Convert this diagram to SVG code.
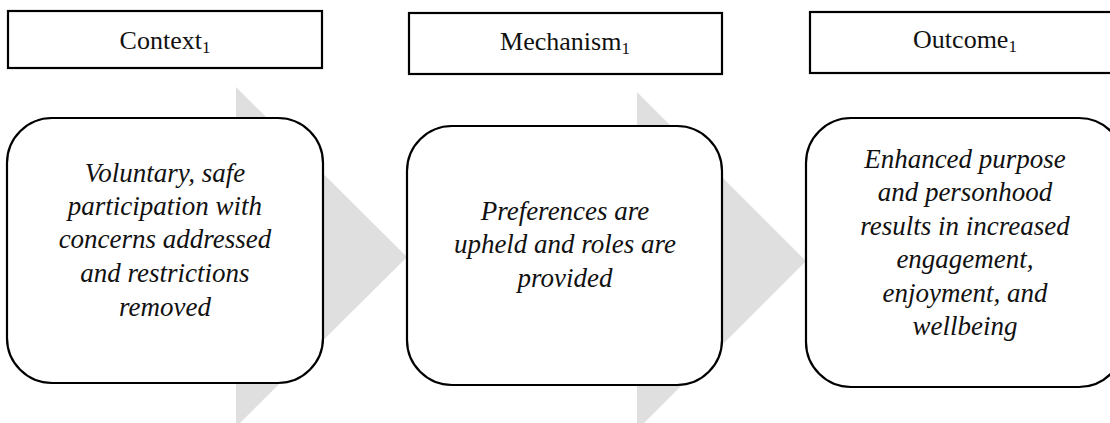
<svg xmlns="http://www.w3.org/2000/svg" width="1110" height="423" viewBox="0 0 1110 423">
<style>
.hdr{fill:#fff;stroke:#000;stroke-width:2.2}
.box{fill:#fff;stroke:#000;stroke-width:2.2}
.chev{fill:#dfdfdf;stroke:none}
.ht{font-family:"Liberation Serif","Times New Roman",serif;font-size:26px;fill:#111;text-anchor:middle}
.sub{font-size:17px}
.bt{font-family:"Liberation Serif","Times New Roman",serif;font-style:italic;font-size:27px;fill:#111;text-anchor:middle}
</style>
<rect width="1110" height="423" fill="#fff"/>
<g id="connectors">
<polygon class="chev" points="236,87 407,257 236,427"/>
<polygon class="chev" points="637,92 806,261 637,430"/>
</g>
<g id="context-header">
<rect class="hdr" x="8" y="11" width="314" height="57"/>
<text class="ht" x="165" y="49">Context<tspan class="sub" dy="4">1</tspan></text>
</g>
<g id="mechanism-header">
<rect class="hdr" x="409" y="13" width="313" height="61"/>
<text class="ht" x="565" y="50">Mechanism<tspan class="sub" dy="4">1</tspan></text>
</g>
<g id="outcome-header">
<rect class="hdr" x="810" y="12" width="314" height="61"/>
<text class="ht" x="965" y="48">Outcome<tspan class="sub" dy="4">1</tspan></text>
</g>
<g id="context-box">
<rect class="box" x="7" y="118" width="316" height="265" rx="45" ry="45"/>
<text class="bt" x="165" y="182">Voluntary, safe</text>
<text class="bt" x="165" y="215">participation with</text>
<text class="bt" x="165" y="248">concerns addressed</text>
<text class="bt" x="165" y="282">and restrictions</text>
<text class="bt" x="165" y="316">removed</text>
</g>
<g id="mechanism-box">
<rect class="box" x="407" y="126" width="315" height="259" rx="45" ry="45"/>
<text class="bt" x="565" y="220">Preferences are</text>
<text class="bt" x="565" y="253">upheld and roles are</text>
<text class="bt" x="565" y="287">provided</text>
</g>
<g id="outcome-box">
<rect class="box" x="806" y="118" width="318" height="269" rx="45" ry="45"/>
<text class="bt" x="965" y="168">Enhanced purpose</text>
<text class="bt" x="965" y="201">and personhood</text>
<text class="bt" x="965" y="235">results in increased</text>
<text class="bt" x="965" y="268">engagement,</text>
<text class="bt" x="965" y="302">enjoyment, and</text>
<text class="bt" x="965" y="335">wellbeing</text>
</g>
</svg>
